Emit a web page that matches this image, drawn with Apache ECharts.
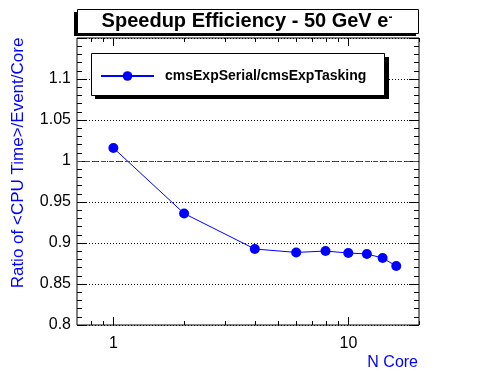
<!DOCTYPE html>
<html><head><meta charset="utf-8">
<script src="https://cdn.jsdelivr.net/npm/echarts@6/dist/echarts.min.js"></script>
<style>html,body{margin:0;padding:0;background:#fff}#c{width:496px;height:372px}</style>
</head><body><div id="c"></div>
<script>
const nCores = [1, 2, 4, 6, 8, 10, 12, 14, 16];
const ratio = [1.0159, 0.936, 0.8927, 0.8885, 0.8902, 0.8878, 0.8866, 0.8817, 0.8719];
const xMajorTicks = [1, 10];
const xMinorTicks = [0.8, 0.9, 2, 3, 4, 5, 6, 7, 8, 9, 20];
const xTickLabels = ['1', '10'];
const xMin = 0.7, xMax = 20;
const yMin = 0.8, yMax = 1.15, yStep = 0.05;
const refLine = 1.0;
const chartTitle = 'Speedup Efficiency - 50 GeV e';
const titleSup = '-';
const seriesName = 'cmsExpSerial/cmsExpTasking';
const xTitle = 'N Core';
const yTitle = 'Ratio of <CPU Time>/Event/Core';

const FONT = '"Liberation Sans", Arial, Helvetica, sans-serif';
const chart = echarts.init(document.getElementById('c'));

const tickData = xMajorTicks.map((v, i) => [v, 1, i]).concat(xMinorTicks.map(v => [v, 0, -1]));

function tickRender(params, api) {
  const cs = params.coordSys;
  const x = Math.round(api.coord([api.value(0), yMin])[0]) + 0.5;
  const major = api.value(1) === 1;
  const len = major ? 8 : 4;
  const yb = cs.y + cs.height, yt = cs.y;
  const children = [
    {type: 'line', shape: {x1: x, y1: yb, x2: x, y2: yb - len}, style: {stroke: '#000', lineWidth: 1}},
    {type: 'line', shape: {x1: x, y1: yt, x2: x, y2: yt + len}, style: {stroke: '#000', lineWidth: 1}}
  ];
  const li = api.value(2);
  if (li >= 0) {
    children.push({type: 'text', x: x, y: yb + 18.5,
      style: {text: xTickLabels[li], fontFamily: FONT, fontSize: 16, fill: '#000', align: 'center', verticalAlign: 'middle'}});
  }
  return {type: 'group', children: children};
}

function refRender(params, api) {
  const cs = params.coordSys;
  const y = Math.round(api.coord([xMin, api.value(1)])[1]) + 0.5;
  return {type: 'line', shape: {x1: cs.x, y1: y, x2: cs.x + cs.width, y2: y},
    style: {stroke: '#ee0000', fill: null, lineWidth: 1, lineDash: [5, 3]}};
}

const option = {
  animation: false,
  backgroundColor: '#fff',
  grid: {left: 77, top: 38, width: 342, height: 287, show: true, borderColor: '#000', borderWidth: 1, backgroundColor: 'transparent'},
  xAxis: {type: 'log', min: xMin, max: xMax, axisLine: {show: false}, axisTick: {show: false}, axisLabel: {show: false}, splitLine: {show: false}},
  yAxis: [
    {type: 'value', min: yMin, max: yMax, interval: yStep, position: 'left',
     axisLine: {show: false},
     axisTick: {show: true, inside: true, length: 10, lineStyle: {color: '#000'}},
     minorTick: {show: true, splitNumber: 5, length: 5, lineStyle: {color: '#000'}},
     axisLabel: {fontFamily: FONT, fontSize: 16, color: '#000', margin: 6, showMaxLabel: false},
     splitLine: {show: true, lineStyle: {color: '#000', type: [1, 2], width: 1}}},
    {type: 'value', min: yMin, max: yMax, interval: yStep, position: 'right',
     axisLine: {show: false},
     axisTick: {show: true, inside: true, length: 10, lineStyle: {color: '#000'}},
     minorTick: {show: true, splitNumber: 5, length: 5, lineStyle: {color: '#000'}},
     axisLabel: {show: false}, splitLine: {show: false}}
  ],
  legend: {data: [seriesName], left: 100, top: 69, padding: 0, itemWidth: 53, itemHeight: 12, itemGap: 0,
    selectedMode: false, z: 30,
    textStyle: {fontFamily: FONT, fontSize: 14, fontWeight: 'bold', color: '#000', padding: [0, 0, 0, 6]}},
  graphic: [
    {type: 'rect', shape: {x: 74, y: 12, width: 342, height: 24}, style: {fill: '#000'}, z: 1},
    {type: 'rect', shape: {x: 77.5, y: 9.5, width: 341, height: 24}, style: {fill: '#fff', stroke: '#000', lineWidth: 1}, z: 2},
    {type: 'text', x: 247, y: 21.5, z: 3,
     style: {text: '{m|' + chartTitle + '}{s|' + titleSup + '}', align: 'center', verticalAlign: 'middle',
       rich: {m: {fontFamily: FONT, fontSize: 20, fontWeight: 'bold', fill: '#000', verticalAlign: 'bottom'},
              s: {fontFamily: FONT, fontSize: 12, fontWeight: 'bold', fill: '#000', verticalAlign: 'top'}}}},
    {type: 'rect', shape: {x: 95, y: 57, width: 294, height: 42}, style: {fill: '#000'}, z: 10},
    {type: 'rect', shape: {x: 91.5, y: 53.5, width: 293, height: 42}, style: {fill: '#fff', stroke: '#000', lineWidth: 1}, z: 11},
    {type: 'text', x: 18, y: 163, rotation: Math.PI / 2,
     style: {text: yTitle, fontFamily: FONT, fontSize: 17, fill: '#0000ff', align: 'center', verticalAlign: 'middle'}},
    {type: 'text', x: 418, y: 362.5,
     style: {text: xTitle, fontFamily: FONT, fontSize: 16, fill: '#0000ff', align: 'right', verticalAlign: 'middle'}}
  ],
  series: [
    {type: 'custom', name: 'ref', data: [[xMin, refLine]], renderItem: refRender, silent: true, clip: false, z: 8,
     itemStyle: {color: '#ee0000'}},
    {type: 'line', name: seriesName, data: nCores.map((x, i) => [x, ratio[i]]),
     symbol: 'circle', symbolSize: 10, z: 5,
     itemStyle: {color: '#0000ff'}, lineStyle: {color: '#0000ff', width: 1}},
    {type: 'custom', name: 'ticks', data: tickData, renderItem: tickRender, silent: true, clip: false, z: 6}
  ]
};
chart.setOption(option);
</script></body></html>
